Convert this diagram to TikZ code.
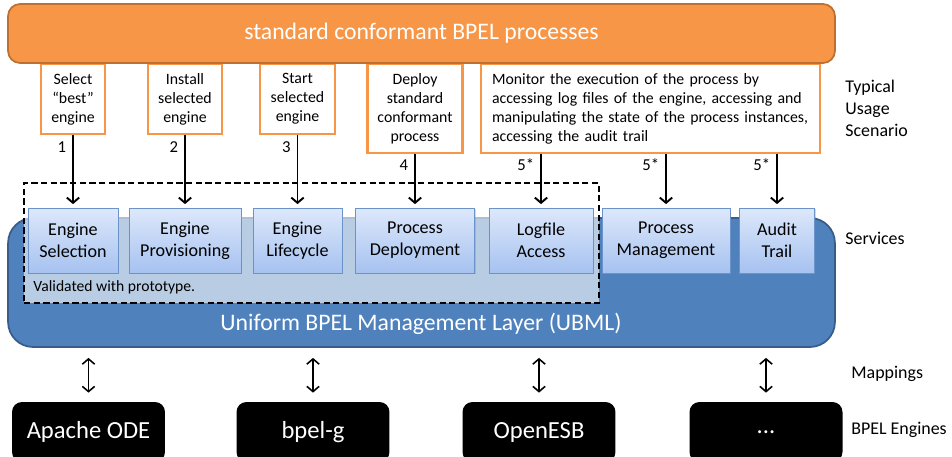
\documentclass[tikz,border=0pt]{standalone}
\usepackage{fontspec}
\setmainfont{Carlito}
\usepackage{xcolor}
\usepackage{tikz}
\usetikzlibrary{arrows.meta, positioning, shadows}
\definecolor{procorange}{RGB}{247, 150, 70}
\definecolor{procorangedark}{RGB}{190, 112, 50}
\definecolor{ubmlblue}{RGB}{79, 129, 189}
\definecolor{ubmlbluedark}{RGB}{56, 93, 138}
\definecolor{svctop}{RGB}{221, 232, 251}
\definecolor{svcbottom}{RGB}{166, 194, 240}
\definecolor{svcborder}{RGB}{108, 146, 202}

\begin{document}
\begin{tikzpicture}[
    x=0.02cm, y=-0.02cm,
    scenario/.style={rectangle, draw=procorange, line width=1.2pt, fill=white, anchor=north, align=center, minimum height=1.4cm, font=\fontsize{9}{10.8}\selectfont},
    service/.style={rectangle, draw=svcborder, top color=svctop, bottom color=svcbottom, minimum height=1.3cm, align=center, font=\fontsize{10.3}{12.5}\selectfont, drop shadow={shadow xshift=0.8pt, shadow yshift=-0.8pt, opacity=0.3}},
    engine/.style={rectangle, rounded corners=0.2cm, fill=black, text=white, minimum width=3.06cm, minimum height=1.2cm, font=\fontsize{14}{16}\selectfont},
    usage/.style={-{Straight Barb[length=3pt, width=7pt]}, line width=1.1pt, shorten >=2pt},
    mapping/.style={{Straight Barb[length=3pt, width=7pt]}-{Straight Barb[length=3pt, width=7pt]}, line width=0.9pt, shorten <=0.2cm, shorten >=0.18cm},
    numlbl/.style={left, font=\fontsize{9.5}{11}\selectfont},
    side/.style={anchor=west, inner sep=0pt, align=left, font=\fontsize{10.2}{12.5}\selectfont}
]
\useasboundingbox (0,0) rectangle (952,456);

% Usage scenarios
\node[scenario, minimum width=1.28cm] (select) at (73,63) {Select\\``best''\\engine};
\node[scenario, minimum width=1.48cm] (install) at (185,63) {Install\\selected\\engine};
\node[scenario, minimum width=1.5cm] (start) at (297.5,63) {Start\\selected\\engine};
\node[scenario, minimum width=1.9cm, minimum height=1.78cm] (deploy) at (415,63) {Deploy\\standard\\conformant\\process};
\node[scenario, minimum height=1.78cm, text width=6.34cm, inner xsep=0.22cm, align=left] (monitor) at (650.5,63) {Monitor the execution of the process by\\accessing log files of the engine, accessing and\\manipulating the state of the process instances,\\accessing the audit trail};

% Processes on top
\node[rectangle, rounded corners=0.24cm, draw=procorangedark, line width=1pt, fill=procorange, text=white, minimum width=16.54cm, minimum height=1.18cm, font=\fontsize{13.5}{16}\selectfont] (bpel) at (421.5,33.5) {standard conformant BPEL processes};

% Management layer
\node[rectangle, rounded corners=0.5cm, draw=ubmlbluedark, line width=1pt, fill=ubmlblue, minimum width=16.54cm, minimum height=2.58cm] (ubml) at (421.5,282.5) {};
\node[text=white, font=\fontsize{13.5}{16}\selectfont] (ubmltitle) at (421,324) {Uniform BPEL Management Layer (UBML)};

% Prototype area
\node[rectangle, draw, dash pattern=on 3.5pt off 2pt, line width=1.1pt, fill=white, fill opacity=0.6, minimum width=11.5cm, minimum height=2.4cm] (proto) at (311.5,243) {};
\node[anchor=base west, inner sep=0pt, font=\fontsize{8.9}{10}\selectfont] (protolbl) at (33,291) {Validated with prototype.};

% Services
\node[service, minimum width=1.8cm] (selection) at (73,240.5) {Engine\\Selection};
\node[service, minimum width=2.24cm] (provisioning) at (185,240.5) {Engine\\Provisioning};
\node[service, minimum width=1.78cm] (lifecycle) at (297.5,240.5) {Engine\\Lifecycle};
\node[service, minimum width=2.38cm] (deployment) at (415,240.5) {Process\\Deployment};
\node[service, minimum width=2.08cm] (logfile) at (541,240.5) {Logfile\\Access};
\node[service, minimum width=2.56cm] (management) at (666,240.5) {Process\\Management};
\node[service, minimum width=1.5cm] (audit) at (777,240.5) {Audit\\Trail};

% Usage arrows
\draw[usage] (select) -- node[numlbl, pos=0.16] {1} (selection);
\draw[usage] (install) -- node[numlbl, pos=0.16] {2} (provisioning);
\draw[usage] (start) -- node[numlbl, pos=0.16] {3} (lifecycle);
\draw[usage] (deploy) -- node[numlbl, pos=0.2] {4} (deployment);
\draw[usage] (monitor.south -| logfile) -- node[numlbl, pos=0.2] {5*} (logfile);
\draw[usage] (monitor.south -| management) -- node[numlbl, pos=0.2] {5*} (management);
\draw[usage] (monitor.south -| audit) -- node[numlbl, pos=0.2] {5*} (audit);

% BPEL engines
\node[engine] (ode) at (88.5,432) {Apache ODE};
\node[engine] (bpelg) at (313,432) {bpel-g};
\node[engine] (openesb) at (539,432) {OpenESB};
\node[engine] (others) at (766,432) {...};

% Mappings
\draw[mapping] (ubml.south -| ode) -- (ode);
\draw[mapping] (ubml.south -| bpelg) -- (bpelg);
\draw[mapping] (ubml.south -| openesb) -- (openesb);
\draw[mapping] (ubml.south -| others) -- (others);

% Layer captions
\node[side] (usagecap) at (845,108) {Typical\\Usage\\Scenario};
\node[side] (servicecap) at (845,238) {Services};
\node[side] (mappingcap) at (851,374) {Mappings};
\node[side] (enginecap) at (851,430) {BPEL Engines};
\end{tikzpicture}
\end{document}
